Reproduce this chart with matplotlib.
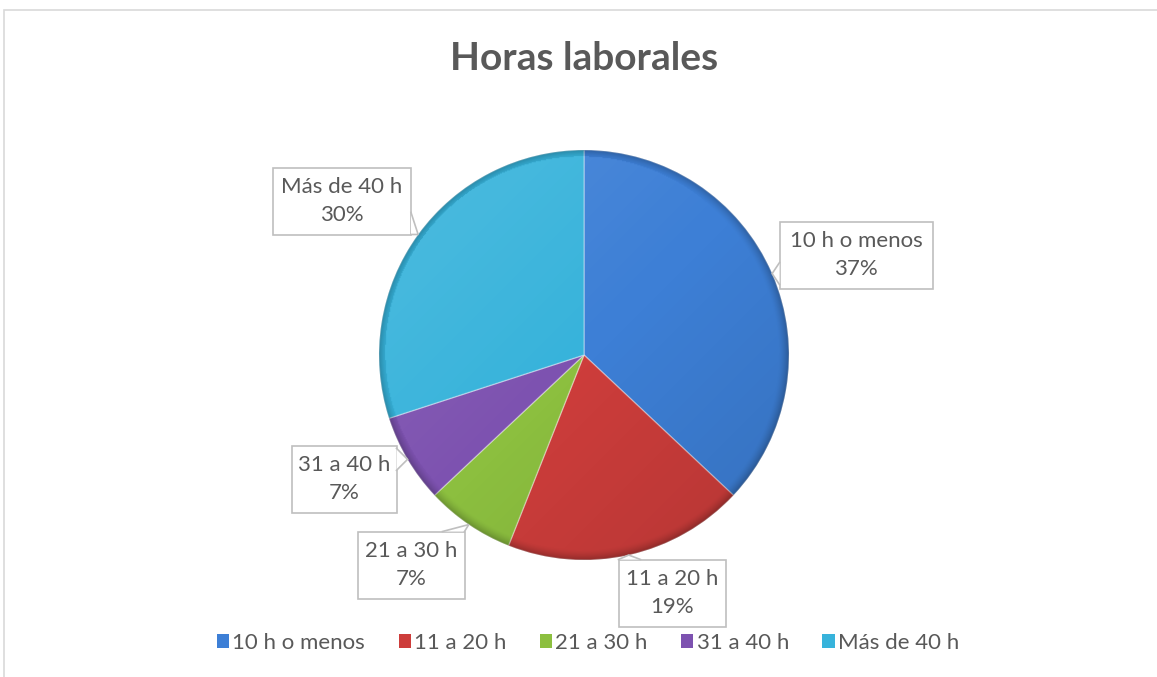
import matplotlib.pyplot as plt
import numpy as np
from matplotlib.patches import Circle, Rectangle, Polygon

plt.rcParams['font.family'] = ['Lato', 'DejaVu Sans']

# data
categories = ['10 h o menos', '11 a 20 h', '21 a 30 h', '31 a 40 h', 'Más de 40 h']
values = [37, 19, 7, 7, 30]
colors = ['#3d7fd6', '#cd3d3b', '#8cbf3f', '#7d52b0', '#37b3db']
title = 'Horas laborales'

W, H = 1157, 677
CX, CY, R = 584, 355, 205          # pie centre / radius in pixels from top-left
# label box centres (pixels from top-left), box size
label_pos = [(856, 255), (672, 593), (411, 565), (344, 479), (342, 201)]
BH = 67
box_w = [153, 107, 107, 105, 138]

GRAY = '#595959'
EDGE = '#bfbfbf'


def yy(y):
    return H - y


fig = plt.figure(figsize=(W / 100, H / 100), dpi=100)
ax = fig.add_axes([0, 0, 1, 1])

wedges, _ = ax.pie(values, colors=colors, startangle=90, counterclock=False,
                   center=(CX, yy(CY)), radius=R,
                   wedgeprops=dict(edgecolor=(1, 1, 1, 0.35), linewidth=1))

# bevel-ish shading over the pie
n = 400
gx, gy = np.meshgrid(np.linspace(-1, 1, n), np.linspace(1, -1, n))
rr = np.sqrt(gx ** 2 + gy ** 2)
shade = np.zeros((n, n, 4))
rim = np.clip((rr - 0.95) / 0.05, 0, 1) ** 1.5 * 0.22
tilt = (gx - gy) * 0.06
dark = np.clip(rim + np.clip(tilt, 0, None), 0, 1)
light = np.clip(-tilt, 0, None)
shade[..., :3] = np.where((light > dark)[..., None], 1.0, 0.0)
shade[..., 3] = np.maximum(dark, light)
img = ax.imshow(shade, extent=(CX - R, CX + R, yy(CY + R), yy(CY - R)),
                zorder=2, interpolation='bilinear')
clip = Circle((CX, yy(CY)), R, transform=ax.transData)
img.set_clip_path(clip)
ax.set_xlim(0, W)
ax.set_ylim(0, H)
ax.set_aspect('equal')
ax.axis('off')

# chart border
ax.add_patch(Rectangle((4, -5), W, yy(10) + 5, fill=False, edgecolor='#d9d9d9',
                       linewidth=1.2, zorder=0))

ax.text(CX, yy(58), title, ha='center', va='center', fontsize=28,
        fontweight='bold', color=GRAY)

# callout labels
cum = np.cumsum([0] + values)
for i, (cat, v) in enumerate(zip(categories, values)):
    mid = np.deg2rad(90 - 360 * (cum[i] + v / 2) / sum(values))
    tx, ty = CX + R * np.cos(mid), CY - R * np.sin(mid)
    bx, by = label_pos[i]
    w = box_w[i]
    x0, x1, y0, y1 = bx - w / 2, bx + w / 2, by - BH / 2, by + BH / 2
    ax.add_patch(Rectangle((x0, yy(y1)), w, BH, facecolor='white',
                           edgecolor=EDGE, linewidth=1.2, zorder=5))
    ax.text(bx, yy(by), f'{cat}\n{v}%', ha='center', va='center', fontsize=16,
            color=GRAY, linespacing=1.5, zorder=7)
    # pointer
    dx = max(x0 - tx, tx - x1, 0)
    dy = max(y0 - ty, ty - y1, 0)
    hw = 11
    if dx >= dy:
        ex = x0 if tx < x0 else x1
        c = np.clip(ty, y0 + hw, y1 - hw)
        p1, p2 = (ex, c - hw), (ex, c + hw)
    else:
        ey = y0 if ty < y0 else y1
        c = np.clip(tx, x0 + hw, x1 - hw)
        p1, p2 = (c - hw, ey), (c + hw, ey)
    pts = [(p1[0], yy(p1[1])), (tx, yy(ty)), (p2[0], yy(p2[1]))]
    ax.add_patch(Polygon(pts, closed=True, facecolor='white', edgecolor='none',
                         zorder=6))
    ax.plot([p[0] for p in pts], [p[1] for p in pts], color=EDGE, lw=1.2,
            zorder=6, solid_joinstyle='miter')

# legend
handles = [Rectangle((0, 0), 1, 1, facecolor=c, edgecolor='none') for c in colors]
fig.legend(handles, categories, loc='center', bbox_to_anchor=(588 / W, 1 - 643 / H),
           ncol=5, frameon=False, fontsize=16, labelcolor=GRAY,
           handlelength=0.55, handleheight=0.55, handletextpad=0.15,
           columnspacing=1.5)

fig.savefig('out.png', dpi=100)
